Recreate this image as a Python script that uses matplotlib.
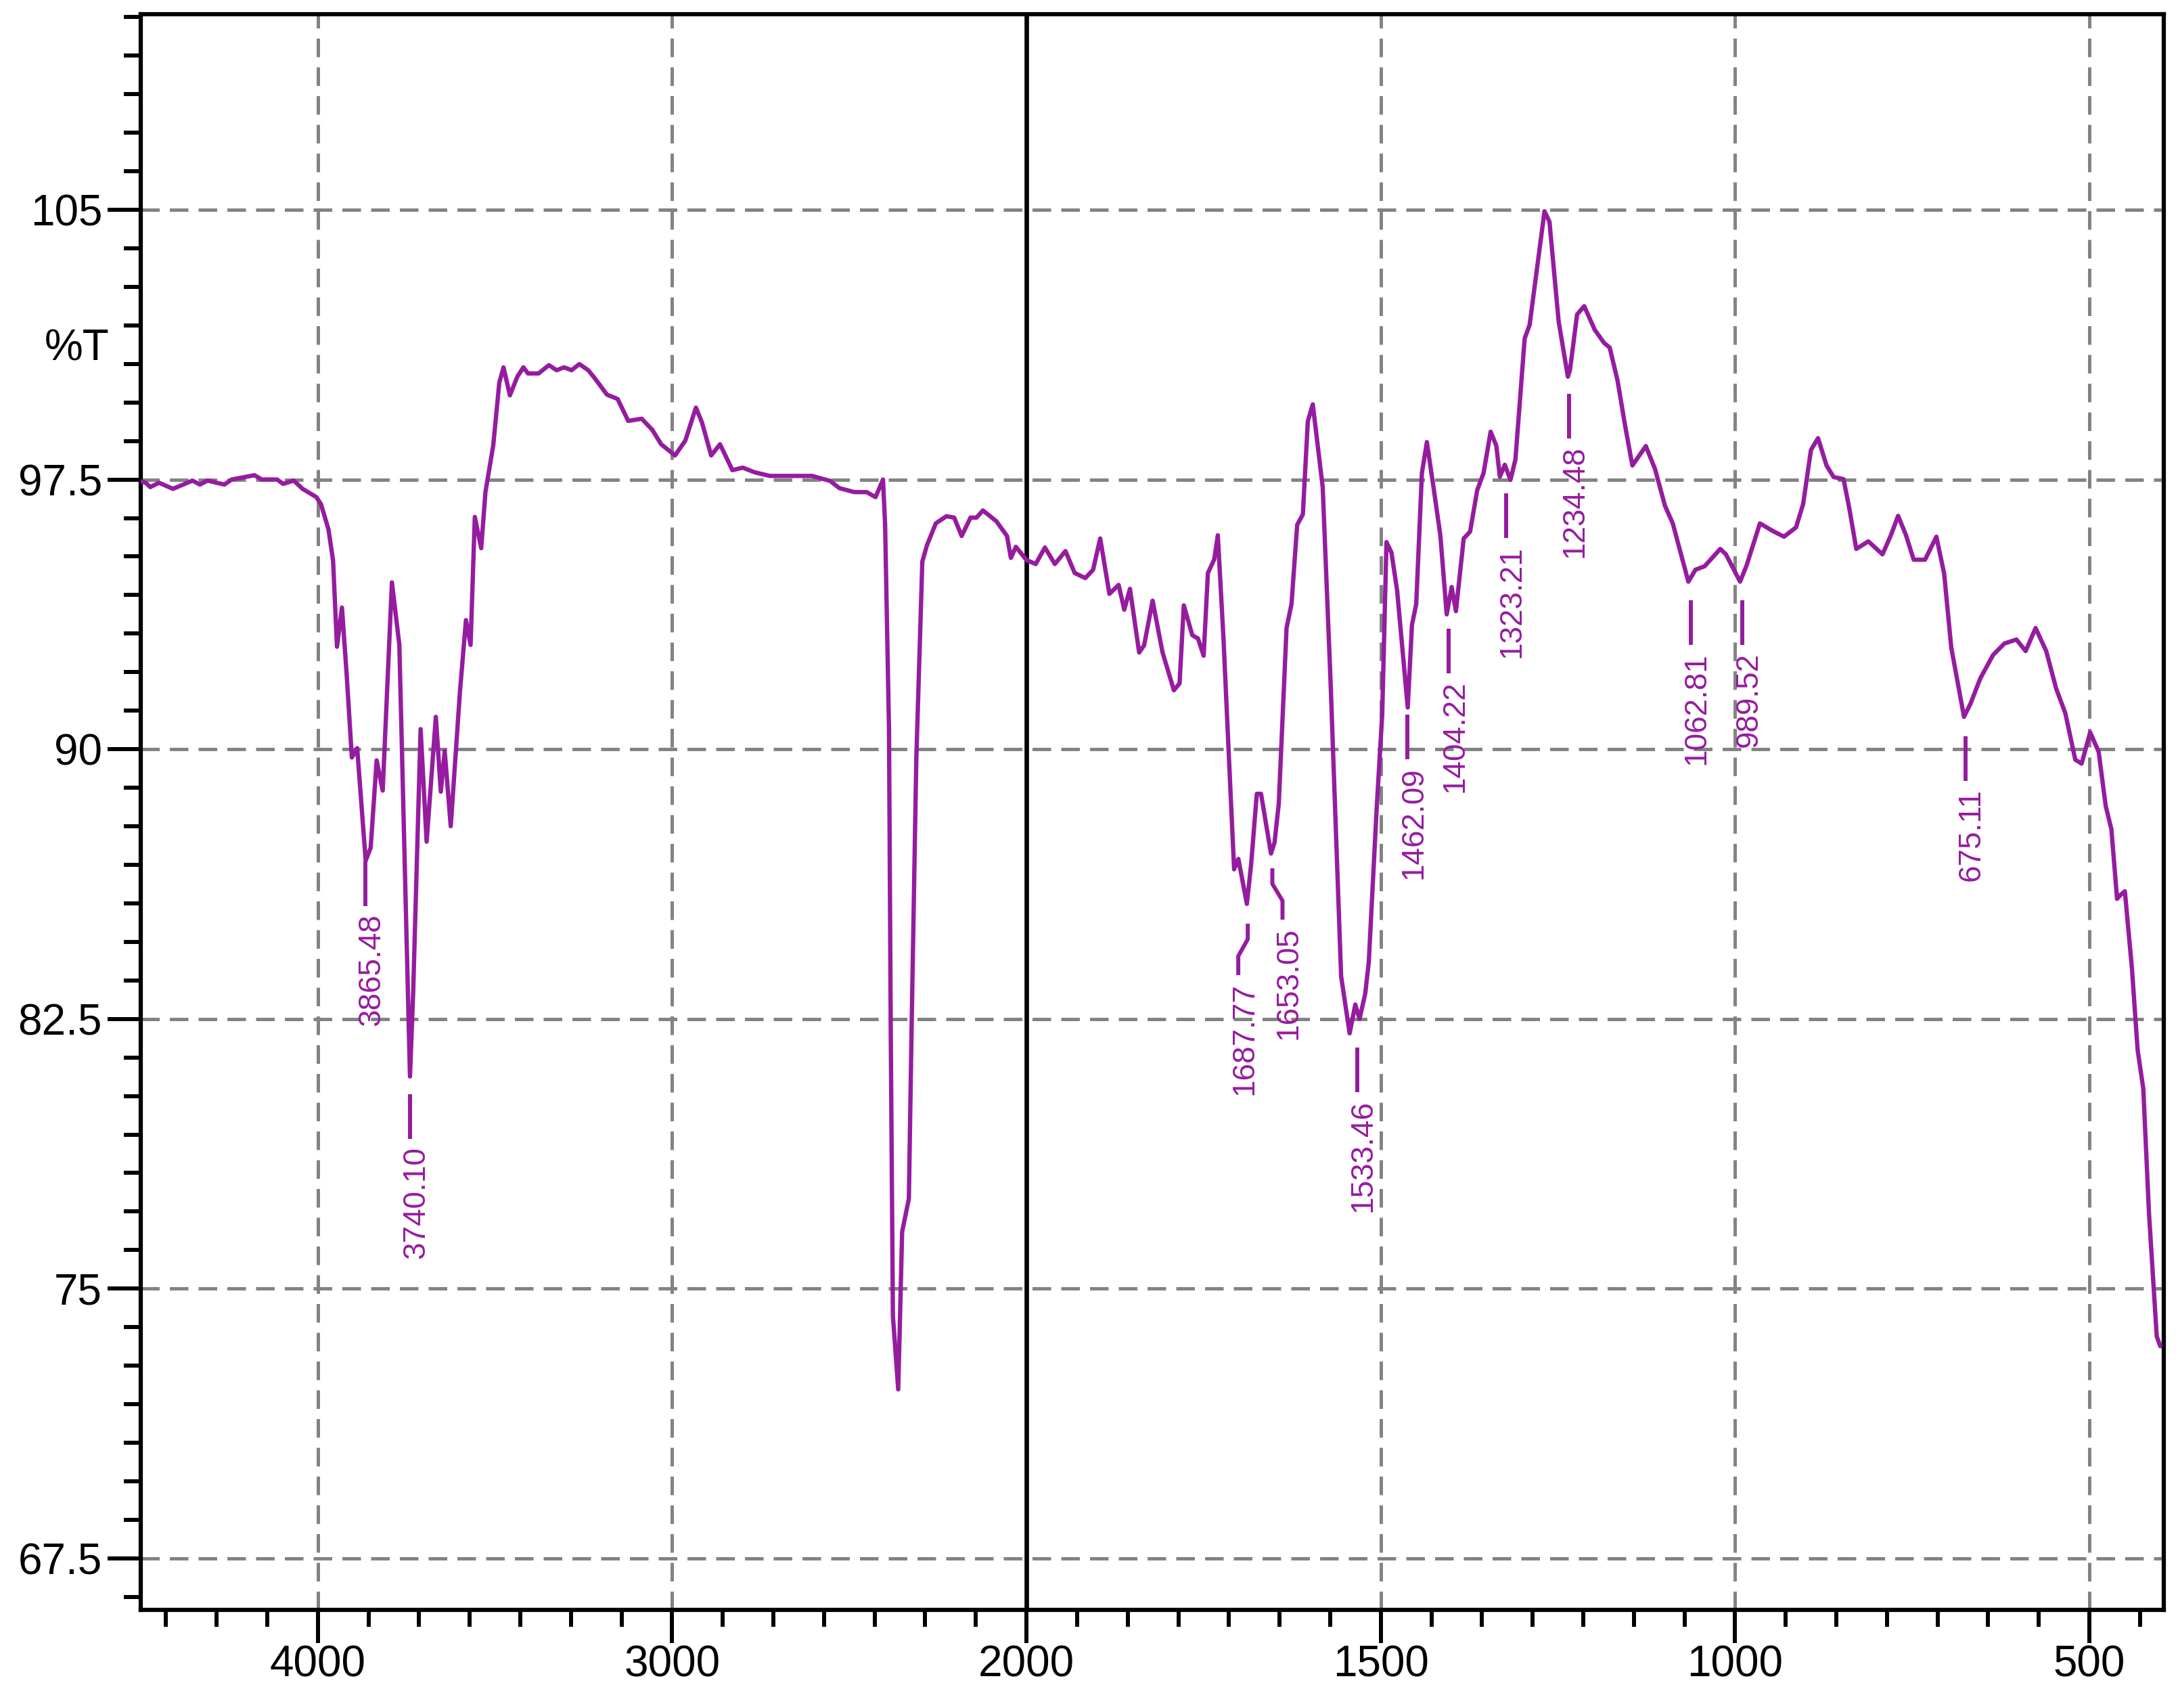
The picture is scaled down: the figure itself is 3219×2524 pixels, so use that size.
import numpy as np
import matplotlib
matplotlib.use('Agg')
import matplotlib.pyplot as plt
from matplotlib import font_manager
from matplotlib.ticker import FixedLocator, FixedFormatter

# --- spectrum values (wavenumber, %T) ---
wavenumber = [
    4500, 4486, 4473, 4448, 4409, 4380, 4354, 4333, 4311, 4286, 4264, 4243, 4179, 4158, 4115,
    4098, 4068, 4043, 4004, 3991, 3970, 3957, 3946, 3932, 3919, 3904, 3889, 3865, 3851,
    3834, 3817, 3791, 3770, 3740, 3731, 3710, 3693, 3667, 3653, 3642, 3625, 3599, 3582,
    3569, 3557, 3539, 3527, 3505, 3488, 3476, 3458, 3437, 3420, 3407, 3377, 3348, 3326,
    3305, 3284, 3262, 3237, 3218, 3184, 3154, 3124, 3086, 3056, 3031, 2992, 2963, 2933,
    2916, 2890, 2865, 2830, 2801, 2767, 2724, 2605, 2554, 2528, 2486, 2451, 2426, 2405,
    2399, 2388, 2383, 2377, 2362, 2351, 2332, 2324, 2311, 2294, 2281, 2256, 2226, 2204,
    2183, 2158, 2141, 2123, 2085, 2055, 2044, 2030, 2000, 1987, 1974, 1960, 1945, 1932,
    1917, 1906, 1896, 1883, 1870, 1862, 1854, 1841, 1834, 1822, 1808, 1792, 1784, 1778,
    1766, 1758, 1750, 1744, 1735, 1730, 1722, 1714, 1707, 1701, 1689, 1683, 1675, 1669,
    1655, 1650, 1644, 1633, 1626, 1618, 1610, 1603, 1596, 1582, 1571, 1556, 1544, 1536,
    1530, 1522, 1517, 1506, 1498, 1492, 1485, 1477, 1462, 1456, 1450, 1442, 1435, 1425,
    1416, 1407, 1400, 1394, 1383, 1374, 1364, 1355, 1345, 1337, 1332, 1325, 1317, 1310,
    1297, 1290, 1269, 1262, 1249, 1236, 1233, 1223, 1213, 1198, 1185, 1177, 1166, 1155,
    1145, 1126, 1113, 1099, 1088, 1066, 1056, 1043, 1021, 1013, 993, 984, 965, 946,
    931, 914, 904, 893, 883, 871, 861, 847, 839, 829, 812, 792, 780, 770,
    759, 748, 732, 716, 705, 695, 677, 668, 654, 636, 620, 603, 590, 576,
    561, 547, 534, 520, 511, 499, 487, 477, 469, 461, 456, 450, 440, 432,
    424, 416, 405, 400,
]
transmittance = [
    97.45, 97.41, 97.29, 97.41, 97.24, 97.36, 97.47, 97.36, 97.47, 97.41, 97.36, 97.50, 97.62, 97.50, 97.50,
    97.38, 97.47, 97.24, 97.01, 96.81, 96.11, 95.24, 92.85, 93.94, 92.12, 89.77, 90.03, 86.90, 87.26,
    89.69, 88.85, 94.64, 92.90, 80.90, 83.24, 90.56, 87.43, 90.90, 88.82, 89.95, 87.86, 91.60, 93.59,
    92.90, 96.46, 95.59, 97.15, 98.45, 100.19, 100.62, 99.84, 100.36, 100.62, 100.45, 100.45, 100.68, 100.54,
    100.62, 100.54, 100.71, 100.54, 100.31, 99.86, 99.74, 99.13, 99.19, 98.88, 98.48, 98.17, 98.58, 99.50,
    99.09, 98.17, 98.48, 97.76, 97.83, 97.70, 97.60, 97.60, 97.46, 97.26, 97.15, 97.15, 97.01, 97.50,
    96.24, 90.53, 81.98, 74.24, 72.20, 76.58, 77.50, 82.39, 89.72, 95.22, 95.67, 96.28, 96.48, 96.44,
    95.93, 96.44, 96.44, 96.64, 96.34, 95.93, 95.32, 95.63, 95.26, 95.15, 95.61, 95.15, 95.51, 94.90,
    94.76, 94.99, 95.86, 94.32, 94.57, 93.88, 94.46, 92.69, 92.89, 94.13, 92.69, 91.64, 91.83, 94.00,
    93.17, 93.08, 92.60, 94.90, 95.28, 95.95, 93.08, 89.63, 86.66, 86.95, 85.70, 86.80, 88.76, 88.76,
    87.10, 87.40, 88.48, 93.37, 94.04, 96.24, 96.53, 99.12, 99.59, 97.29, 91.93, 83.69, 82.10, 82.90,
    82.50, 83.20, 84.07, 88.29, 90.97, 95.76, 95.47, 94.42, 91.16, 93.46, 94.04, 97.68, 98.54, 97.20,
    95.95, 93.75, 94.51, 93.84, 95.86, 96.05, 97.20, 97.68, 98.83, 98.44, 97.58, 97.91, 97.49, 98.06,
    101.42, 101.80, 104.96, 104.67, 101.89, 100.36, 100.55, 102.09, 102.32, 101.66, 101.30, 101.17, 100.26, 98.97,
    97.89, 98.43, 97.79, 96.77, 96.28, 94.66, 94.99, 95.09, 95.57, 95.42, 94.66, 95.10, 96.28, 96.06,
    95.91, 96.17, 96.82, 98.32, 98.65, 97.89, 97.57, 97.51, 96.71, 95.57, 95.78, 95.42, 95.96, 96.49,
    95.96, 95.27, 95.27, 95.91, 94.88, 92.83, 90.90, 91.26, 91.97, 92.62, 92.94, 93.05, 92.73, 93.37,
    92.73, 91.69, 91.00, 89.71, 89.60, 90.47, 89.93, 88.42, 87.77, 85.84, 85.95, 86.05, 83.90, 81.64,
    80.56, 77.11, 73.67, 73.40,
]

# peak picks: wavenumber and the %T where the marker starts
peak_wn = [3865.48, 3740.10, 1687.77, 1653.05, 1533.46, 1462.09,
           1404.22, 1323.21, 1234.48, 1062.81, 989.52, 675.11]
peak_y = [86.88, 80.40, 85.15, 86.69, 81.71, 90.96,
          93.36, 97.11, 99.89, 94.14, 94.14, 90.36]
peak_shift = [0, 0, -14, 15, 0, 0, 0, 0, 0, 0, 0, 0]   # dogleg side shift, pixels

x_major = [4000, 3000, 2000, 1500, 1000, 500]
y_major = [67.5, 75, 82.5, 90, 97.5, 105]
y_labels = ['67.5', '75', '82.5', '90', '97.5', '105']

LINE_COL = '#951c9f'
GRID_COL = '#838383'

plt.rcParams['font.family'] = ['Liberation Sans', 'DejaVu Sans']
installed = {f.name for f in font_manager.fontManager.ttflist}
if 'Liberation Sans Narrow' in installed:
    peak_font, peak_size = 'Liberation Sans Narrow', 38
else:
    peak_font, peak_size = 'Liberation Sans', 33


# x axis: above 2000 cm-1 is drawn at half scale
def fwd(x):
    x = np.asarray(x, dtype=float)
    return np.where(x > 2000, 2000 + (x - 2000) / 2.0, x)


def inv(u):
    u = np.asarray(u, dtype=float)
    return np.where(u > 2000, 2000 + (u - 2000) * 2.0, u)


fig = plt.figure(figsize=(32.19, 25.24), dpi=100)
ax = fig.add_axes([0.0646, 0.0575, 0.9289, 0.9342])
ax.set_xscale('function', functions=(fwd, inv))
ax.set_xlim(4500, 395)
ax.set_ylim(66.07, 110.44)

# ticks
minor_x = np.concatenate([np.arange(2000, 4500, 1000 / 7), np.arange(500 - 500 / 7, 2000, 500 / 7)])
ax.xaxis.set_major_locator(FixedLocator(x_major))
ax.xaxis.set_major_formatter(FixedFormatter([str(v) for v in x_major]))
ax.xaxis.set_minor_locator(FixedLocator(minor_x))
ax.yaxis.set_major_locator(FixedLocator(y_major))
ax.yaxis.set_major_formatter(FixedFormatter(y_labels))
ax.yaxis.set_minor_locator(FixedLocator(np.arange(67.5 - 7.5 / 7, 111, 7.5 / 7)))
ax.tick_params(axis='both', which='major', direction='out', length=35, width=4.3,
               labelsize=46, color='black')
ax.tick_params(axis='both', which='minor', direction='out', length=18, width=4.3)
ax.tick_params(axis='x', which='major', pad=2)
ax.tick_params(axis='y', which='major', pad=6)
for sp in ax.spines.values():
    sp.set_linewidth(4.5)

# grid
for xv in x_major:
    if xv != 2000:
        ax.axvline(xv, color=GRID_COL, lw=3.6, dashes=(5.5, 3), zorder=1)
for yv in y_major:
    ax.axhline(yv, color=GRID_COL, lw=3.6, dashes=(5.5, 3), zorder=1)
ax.axvline(2000, color='black', lw=4.8, zorder=1.5)

ax.plot(wavenumber, transmittance, color=LINE_COL, lw=4.6, zorder=3,
        solid_joinstyle='round', solid_capstyle='round')


# peak markers and labels, offsets in pixels
def px_point(wn, y, dx, dy):
    X, Y = ax.transData.transform((wn, y))
    return ax.transData.inverted().transform((X + dx, Y + dy))


for wn, y, s in zip(peak_wn, peak_y, peak_shift):
    if s == 0:
        offs = [(0, 0), (0, -66)]
    else:
        offs = [(0, 0), (0, -23), (s, -48), (s, -76)]
    pts = np.array([px_point(wn, y, dx, dy) for dx, dy in offs])
    ax.plot(pts[:, 0], pts[:, 1], color=LINE_COL, lw=4.3, solid_capstyle='butt',
            solid_joinstyle='round', zorder=3)
    bottom = offs[-1][1] - 11
    ax.annotate(f'{wn:.2f}', xy=(wn, y), xycoords='data',
                xytext=(s + 9, bottom), textcoords='offset pixels',
                rotation=90, ha='center', va='top', color=LINE_COL,
                fontsize=peak_size, family=[peak_font, 'DejaVu Sans'], zorder=4)

ax.annotate('%T', xy=(0, 101.14), xycoords=ax.get_yaxis_transform(),
            xytext=(-46, 0), textcoords='offset pixels',
            ha='right', va='center', fontsize=46)

fig.savefig('out.png', dpi=100)
